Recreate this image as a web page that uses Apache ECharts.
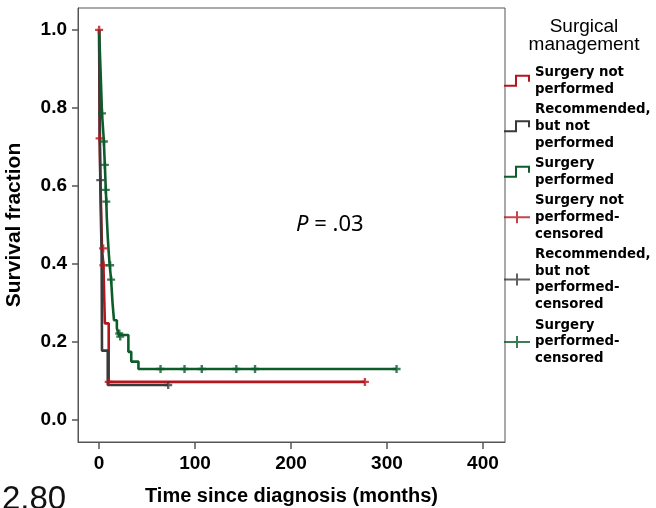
<!DOCTYPE html>
<html>
<head>
<meta charset="utf-8">
<script src="https://cdn.jsdelivr.net/npm/echarts@6/dist/echarts.min.js"></script>
<style>
  html, body { margin: 0; padding: 0; background: #fff; }
  #chart { width: 656px; height: 508px; }
</style>
</head>
<body>
<div id="chart"></div>
<script>
// Kaplan-Meier steps: [months, survival fraction]
const notPerformed = [[0, 1.0], [0.5, 0.722], [1.5, 0.6], [3, 0.44], [4.5, 0.397], [6, 0.248], [10, 0.098], [277, 0.098]];
const recommended = [[0, 1.0], [0.4, 0.86], [0.8, 0.74], [1.2, 0.615], [2, 0.5], [2.6, 0.43], [3, 0.178], [9, 0.09], [72, 0.09]];
const performed = [[0, 1.0], [1, 0.93], [2, 0.86], [3, 0.786], [4, 0.75], [5, 0.714], [5.5, 0.68], [6, 0.654], [6.5, 0.62],
  [7, 0.59], [7.5, 0.56], [8, 0.52], [9, 0.47], [10, 0.43], [11, 0.397], [12.5, 0.36], [14, 0.3], [15.5, 0.256],
  [18.5, 0.236], [20.5, 0.218], [30.5, 0.175], [33.5, 0.15], [41, 0.131], [310, 0.131]];

// censored observations
const notPerformedCens = [[0, 1.0], [0.5, 0.722], [4.2, 0.44], [4.5, 0.397], [10, 0.098], [277, 0.098]];
const recommendedCens = [[1.2, 0.615], [72, 0.09]];
const performedCens = [[3, 0.786], [5, 0.714], [6, 0.654], [7, 0.59], [7.5, 0.56], [11.5, 0.397], [12.5, 0.36],
  [21, 0.222], [22, 0.214], [64, 0.131], [89, 0.131], [107, 0.131], [143, 0.131], [162.5, 0.131], [310, 0.131]];

const xTicks = [0, 100, 200, 300, 400];
const yTicks = [0, 0.2, 0.4, 0.6, 0.8, 1.0];

const seriesNames = ['Surgery not performed', 'Recommended, but not performed', 'Surgery performed',
  'Surgery not performed-censored', 'Recommended, but not performed-censored', 'Surgery performed-censored'];
const legendText = {
  'Surgery not performed': 'Surgery not\nperformed',
  'Recommended, but not performed': 'Recommended,\nbut not\nperformed',
  'Surgery performed': 'Surgery\nperformed',
  'Surgery not performed-censored': 'Surgery not\nperformed-\ncensored',
  'Recommended, but not performed-censored': 'Recommended,\nbut not\nperformed-\ncensored',
  'Surgery performed-censored': 'Surgery\nperformed-\ncensored'
};

const RED = '#b5161e';
const GRAY = '#3a3a3a';
const GREEN = '#0d5c2c';

const stepIcon = 'path://M0,10H11V0H26V7H24V2H13V12H0Z';
const plusIcon = 'path://M0,5H12V0H14V5H26V7H14V12H12V7H0Z';
const plusMark = 'path://M3.5,0H6.5V3.5H10V6.5H6.5V10H3.5V6.5H0V3.5H3.5Z';

const chart = echarts.init(document.getElementById('chart'));

const stepSeries = (name, data, color) => ({
  name: name,
  type: 'line',
  step: 'end',
  data: data,
  showSymbol: false,
  symbol: 'none',
  color: color,
  lineStyle: { color: color, width: 2.6 },
  z: 2
});

const censSeries = (name, data, color) => ({
  name: name,
  type: 'scatter',
  data: data,
  symbol: plusMark,
  symbolSize: 8,
  color: color,
  itemStyle: { color: color },
  z: 3
});

chart.setOption({
  animation: false,
  title: {
    text: 'Surgical\nmanagement',
    left: 579,
    top: 13,
    textAlign: 'center',
    textStyle: { fontFamily: 'Liberation Sans', fontSize: 19, fontWeight: 'normal', color: '#000', lineHeight: 18 }
  },
  legend: {
    orient: 'vertical',
    left: 499,
    top: 59,
    itemWidth: 26,
    itemHeight: 12,
    itemGap: 3.5,
    selectedMode: false,
    data: [
      { name: seriesNames[0], icon: stepIcon },
      { name: seriesNames[1], icon: stepIcon },
      { name: seriesNames[2], icon: stepIcon },
      { name: seriesNames[3], icon: plusIcon },
      { name: seriesNames[4], icon: plusIcon },
      { name: seriesNames[5], icon: plusIcon }
    ],
    formatter: name => legendText[name],
    textStyle: { fontFamily: 'DejaVu Sans', fontSize: 13.3, fontWeight: 'bold', color: '#000', lineHeight: 16.8 }
  },
  grid: {
    left: 78, top: 8, right: 151, bottom: 66,
    outerBoundsMode: 'none',
    show: true, borderColor: '#555', borderWidth: 1, backgroundColor: '#fff'
  },
  xAxis: {
    type: 'value',
    min: -22,
    max: 423,
    name: 'Time since diagnosis (months)',
    nameLocation: 'middle',
    nameGap: 44,
    nameTextStyle: { fontFamily: 'Liberation Sans', fontSize: 20, fontWeight: 'bold', color: '#000' },
    axisLine: { show: true, onZero: false, lineStyle: { color: '#555', width: 1 } },
    axisTick: { show: true, length: 7, customValues: xTicks, lineStyle: { color: '#555', width: 1.5 } },
    axisLabel: { customValues: xTicks, margin: 12, fontFamily: 'Liberation Sans', fontSize: 19, fontWeight: 'bold', color: '#000' },
    splitLine: { show: false }
  },
  yAxis: {
    type: 'value',
    min: -0.056,
    max: 1.056,
    name: 'Survival fraction',
    nameLocation: 'middle',
    nameGap: 53,
    nameTextStyle: { fontFamily: 'Liberation Sans', fontSize: 21, fontWeight: 'bold', color: '#000' },
    axisLine: { show: true, onZero: false, lineStyle: { color: '#555', width: 1 } },
    axisTick: { show: true, length: 6, customValues: yTicks, lineStyle: { color: '#555', width: 1.5 } },
    axisLabel: {
      customValues: yTicks, margin: 11, fontFamily: 'Liberation Sans', fontSize: 19, fontWeight: 'bold', color: '#000',
      formatter: v => v.toFixed(1)
    },
    splitLine: { show: false }
  },
  graphic: [
    {
      type: 'text',
      left: 296,
      top: 214,
      style: {
        text: '{i|P} = .03',
        rich: { i: { fontStyle: 'italic', fontFamily: 'Noto Sans', fontSize: 22, fill: '#000' } },
        fontFamily: 'Noto Sans', fontSize: 22, fill: '#000'
      }
    },
    {
      type: 'text',
      left: 2,
      top: 483,
      style: { text: '2.80', fontFamily: 'Liberation Sans', fontSize: 33, fill: '#111' }
    }
  ],
  series: [
    stepSeries(seriesNames[0], notPerformed, RED),
    stepSeries(seriesNames[1], recommended, GRAY),
    stepSeries(seriesNames[2], performed, GREEN),
    censSeries(seriesNames[3], notPerformedCens, RED),
    censSeries(seriesNames[4], recommendedCens, GRAY),
    censSeries(seriesNames[5], performedCens, GREEN)
  ]
});
</script>
</body>
</html>
